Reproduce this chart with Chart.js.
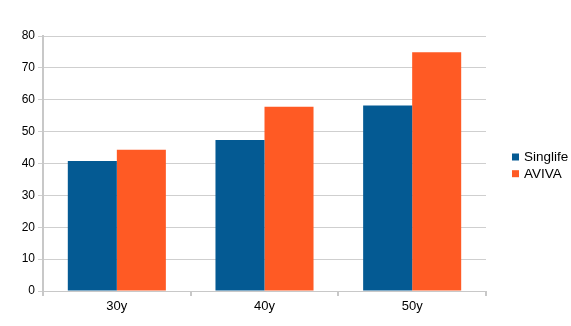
<!DOCTYPE html>
<html>
<head>
<meta charset="utf-8">
<script src="https://cdn.jsdelivr.net/npm/chart.js@4.4.1/dist/chart.umd.min.js"></script>
<style>
  html, body { margin: 0; padding: 0; background: #fff; }
  #wrap { width: 571px; height: 326px; }
</style>
</head>
<body>
<div id="wrap"><canvas id="myChart" width="571" height="326"></canvas></div>
<script>
// values
var ages = ['30y', '40y', '50y'];
var singlife = [40.8, 47.4, 58.2];
var aviva = [44.3, 57.8, 74.9];
var seriesNames = ['Singlife', 'AVIVA'];
var seriesColors = ['#045a93', '#ff5a24'];

var gridGray = '#cfcfcf';
var axisGray = '#c8c8c8';
var fontFace = '"Liberation Sans", Arial, sans-serif';

// small legend on the right, drawn like the original (square + name)
var sideLegend = {
  id: 'sideLegend',
  afterDraw: function(chart) {
    var ctx = chart.ctx;
    ctx.save();
    ctx.font = '13.5px ' + fontFace;
    ctx.textBaseline = 'middle';
    chart.data.datasets.forEach(function(ds, i) {
      var y = 157 + i * 16.7;
      ctx.fillStyle = ds.backgroundColor;
      ctx.fillRect(512, y - 3.5, 7, 7);
      ctx.fillStyle = '#000';
      ctx.fillText(ds.label, 524, y + 0.5);
    });
    ctx.restore();
  }
};

function drawChart() {
  var element = document.getElementById('myChart').getContext('2d');
  var myChart = new Chart(element, {
    type: 'bar',
    data: {
      labels: ages,
      datasets: [
        { label: seriesNames[0], data: singlife, backgroundColor: seriesColors[0] },
        { label: seriesNames[1], data: aviva, backgroundColor: seriesColors[1] }
      ]
    },
    options: {
      responsive: false,
      animation: false,
      layout: { padding: { top: 36, right: 85, left: 0, bottom: 0 } },
      datasets: {
        bar: { barPercentage: 1.0, categoryPercentage: 0.664, borderWidth: 0 }
      },
      plugins: {
        legend: { display: false },
        tooltip: { enabled: false }
      },
      scales: {
        x: {
          afterFit: function(s) { s.height = 35; },
          grid: {
            offset: true,
            drawOnChartArea: true,
            tickLength: 5,
            tickColor: axisGray,
            lineWidth: 2,
            color: function(c) {
              return (c.index === 0 || c.index === ages.length) ? axisGray : 'rgba(0,0,0,0)';
            }
          },
          border: { display: true, color: axisGray, width: 1 },
          ticks: { color: '#000', padding: 3, font: { family: fontFace, size: 13 } }
        },
        y: {
          min: 0,
          max: 80,
          afterFit: function(s) { s.width = 43; },
          grid: { color: gridGray, lineWidth: 1, tickLength: 5 },
          border: { display: true, color: axisGray, width: 2 },
          ticks: { stepSize: 10, color: '#000', padding: 3, font: { family: fontFace, size: 12 } }
        }
      }
    },
    plugins: [sideLegend]
  });
}

drawChart();
</script>
</body>
</html>
